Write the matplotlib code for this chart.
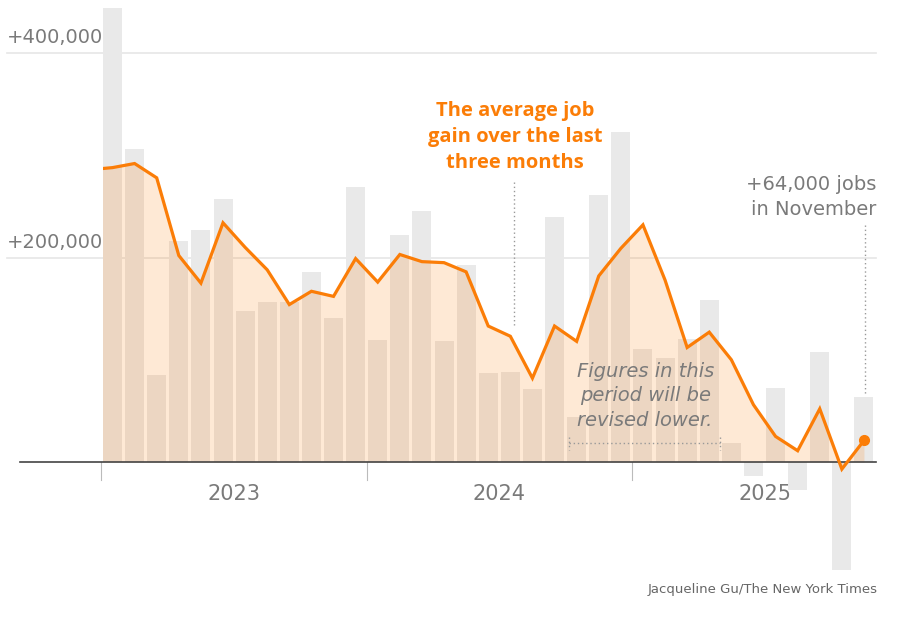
import numpy as np
import matplotlib.pyplot as plt
from matplotlib.patches import Rectangle

plt.rcParams['font.family'] = ['DejaVu Sans']

# Monthly job gains, Jan 2023 - Nov 2025 (thousands)
jobs = [444, 306, 85, 216, 227, 257, 148, 157, 157, 186, 141, 269,
        119, 222, 246, 118, 193, 87, 88, 71, 240, 44, 261, 323,
        111, 102, 120, 158, 19, -14, 72, -27, 108, -106, 64]

# Three-month average (thousands), Dec 2022 - Nov 2025
avg3 = [286, 288, 292, 278, 202, 175, 234, 210, 188, 154, 167, 162, 199,
        176, 203, 196, 195, 186, 133, 123, 82, 133, 118, 182, 209,
        232, 178, 112, 127, 100, 56, 25, 11, 52, -7, 21]

years = ['2023', '2024', '2025']
year_start = [-0.5, 11.5, 23.5]
year_mid = [5.5, 17.5, 29.5]
y_ticks = [200, 400]
y_labels = ['+200,000', '+400,000']

orange = '#fb7d07'
gray_txt = '#7a7a7a'

x = np.arange(len(jobs))
xa = np.arange(-1, len(jobs))

fig = plt.figure(figsize=(8.98, 6.26), dpi=100)
ax = fig.add_axes([0, 0, 1, 1])
ax.set_xlim(-5.09, 35.54)
ax.set_ylim(-160.5, 452)
ax.axis('off')

# gridlines + labels
for v, lab in zip(y_ticks, y_labels):
    ax.plot([-4.77, 34.55], [v, v], color='#e6e6e6', lw=1.2, zorder=0)
    ax.text(-4.77, v + 9.5, lab, fontsize=14, color=gray_txt, va='baseline', ha='left')

# bars
ax.bar(x, jobs, width=0.86, color='#e9e9e9', zorder=1)

# average line and fill, clipped at the first bar's left edge
clip = Rectangle((-0.45, -300), 40, 900, transform=ax.transData)
fill = ax.fill_between(xa, avg3, 0, color=orange, alpha=0.17, lw=0, zorder=2)
fill.set_clip_path(clip)
line, = ax.plot(xa, avg3, color=orange, lw=2.3, zorder=4, solid_joinstyle='miter')
line.set_clip_path(clip)
ax.plot(xa[-1], avg3[-1], 'o', color=orange, ms=7, zorder=5)

# zero line
ax.plot([-4.2, 34.55], [0, 0], color='#444444', lw=1.2, zorder=3)

# year ticks and labels
for xs in year_start:
    ax.plot([xs, xs], [0, -17.6], color='#bbbbbb', lw=0.8)
for xm, yr in zip(year_mid, years):
    ax.text(xm, -31, yr, fontsize=15, color=gray_txt, ha='center', va='center')

# annotation: average
ax.text(18.2, 318, 'The average job\ngain over the last\nthree months', fontsize=14.5,
        fontweight='bold', family=['Open Sans', 'DejaVu Sans'], color=orange,
        ha='center', va='center', linespacing=1.38)
ax.plot([18.16, 18.16], [274, 134], color='#999999', lw=1, ls=(0, (1, 2)))

# annotation: November
ax.text(34.55, 259, '+64,000 jobs\nin November', fontsize=14, color=gray_txt,
        ha='right', va='center', linespacing=1.4)
ax.plot([34.05, 34.05], [232, 65.5], color='#999999', lw=1, ls=(0, (1, 2)))

# annotation: revision period
ax.text(24.1, 64.6, 'Figures in this\nperiod will be\nrevised lower.', fontsize=14,
        style='italic', color=gray_txt, ha='center', va='center', linespacing=1.38, zorder=6)
ax.plot([20.65, 27.5], [18.6, 18.6], color='#999999', lw=1, ls=(0, (1, 2)), zorder=6)
for xe in [20.65, 27.5]:
    ax.plot([xe, xe], [24.5, 11.7], color='#999999', lw=1, ls=(0, (1, 2)), zorder=6)

ax.text(34.64, -125, 'Jacqueline Gu/The New York Times', fontsize=9.5, color='#666666',
        ha='right', va='center')

fig.savefig('out.png', dpi=100)
